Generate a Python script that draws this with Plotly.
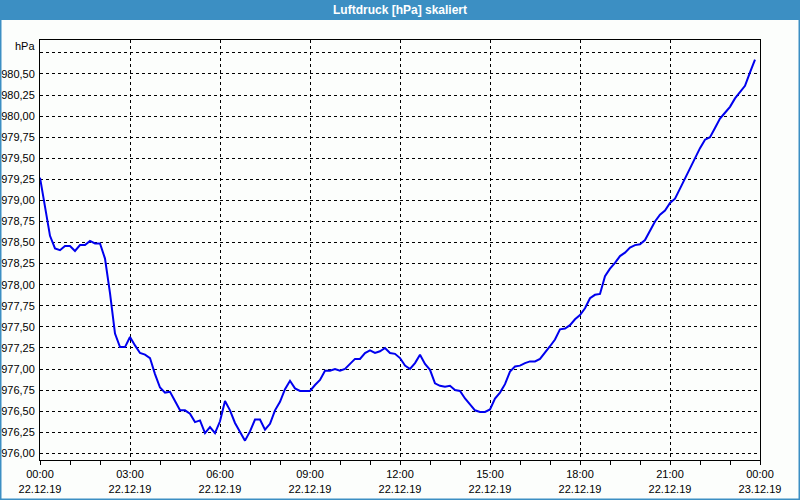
import pandas as pd
import plotly.graph_objects as go

# ---- data -------------------------------------------------------------
start_time = "2019-12-22 00:00"
interval = "10min"
pressure_hpa = [
    979.27, 978.90, 978.58, 978.43, 978.41, 978.46, 978.46, 978.40, 978.47, 978.47,
    978.52, 978.49, 978.49, 978.31, 977.90, 977.42, 977.26, 977.26, 977.38, 977.28,
    977.19, 977.17, 977.13, 976.94, 976.78, 976.72, 976.73, 976.62, 976.51, 976.51,
    976.47, 976.37, 976.39, 976.24, 976.31, 976.24, 976.38, 976.62, 976.51, 976.36,
    976.26, 976.15, 976.26, 976.40, 976.40, 976.28, 976.35, 976.51, 976.61, 976.76,
    976.86, 976.77, 976.74, 976.74, 976.74, 976.81, 976.87, 976.98, 976.98, 977.00,
    976.98, 977.00, 977.06, 977.12, 977.12, 977.19, 977.22, 977.19, 977.21, 977.25,
    977.19, 977.18, 977.13, 977.04, 977.00, 977.07, 977.17, 977.06, 976.99, 976.83,
    976.80, 976.79, 976.80, 976.75, 976.74, 976.65, 976.58, 976.51, 976.49, 976.49,
    976.52, 976.65, 976.72, 976.82, 976.97, 977.03, 977.04, 977.07, 977.09, 977.09,
    977.12, 977.19, 977.27, 977.35, 977.47, 977.48, 977.52, 977.59, 977.64, 977.72,
    977.84, 977.88, 977.89, 978.10, 978.19, 978.26, 978.34, 978.38, 978.44, 978.47,
    978.48, 978.53, 978.64, 978.75, 978.83, 978.88, 978.97, 979.02, 979.14, 979.26,
    979.38, 979.51, 979.62, 979.72, 979.75, 979.86, 979.97, 980.04, 980.11, 980.21,
    980.29, 980.36, 980.52, 980.67,
]
times = pd.date_range(start_time, periods=len(pressure_hpa), freq=interval)

y_tick_values = [976.00, 976.25, 976.50, 976.75, 977.00, 977.25, 977.50, 977.75,
                 978.00, 978.25, 978.50, 978.75, 979.00, 979.25, 979.50, 979.75,
                 980.00, 980.25, 980.50, 980.75]
y_tick_labels = ["976,00", "976,25", "976,50", "976,75", "977,00", "977,25", "977,50",
                 "977,75", "978,00", "978,25", "978,50", "978,75", "979,00", "979,25",
                 "979,50", "979,75", "980,00", "980,25", "980,50", ""]

x_tick_values = list(pd.date_range("2019-12-22 00:00", "2019-12-23 00:00", freq="3h"))
x_tick_labels = [f"{t:%H:%M}<br>{t:%d.%m.%y}" for t in x_tick_values]
x_minor_values = list(pd.date_range("2019-12-22 00:00", "2019-12-23 00:00", freq="1h"))

title_text = "Luftdruck [hPa] skaliert"
unit_text = "hPa"

# ---- figure -----------------------------------------------------------
W, H = 800, 500
L, R, T, B = 40, 40, 40, 40
plot_w, plot_h = W - L - R, H - T - B

def px_x(p):
    return (p - L) / plot_w

def px_y(p):
    return (H - B - p) / plot_h

blue_bar = "#3c8fc3"
bg = "#fcfefc"
font = "Liberation Sans, Arial, sans-serif"

fig = go.Figure()
fig.add_trace(go.Scatter(
    x=times, y=pressure_hpa, mode="lines",
    line=dict(color="#0000ee", width=2),
    hoverinfo="skip", showlegend=False,
))

fig.update_layout(
    width=W, height=H,
    margin=dict(l=L, r=R, t=T, b=B, autoexpand=False),
    paper_bgcolor=bg, plot_bgcolor=bg,
    font=dict(family=font, size=11, color="#000000"),
    showlegend=False,
    xaxis=dict(
        type="date", automargin=False,
        range=["2019-12-22 00:00", "2019-12-23 00:00"],
        tickmode="array", tickvals=x_tick_values, ticktext=x_tick_labels,
        ticks="outside", ticklen=4, tickcolor="#000000", tickwidth=1,
        ticklabelstandoff=0,
        showgrid=True, gridcolor="#000000", gridwidth=1, griddash="3px,3px",
        minor=dict(tickmode="array", tickvals=x_minor_values, ticks="outside",
                   ticklen=4, tickcolor="#000000", showgrid=False),
        showline=True, linecolor="#000000", linewidth=1, mirror=True,
        zeroline=False, fixedrange=True,
    ),
    yaxis=dict(
        automargin=False,
        range=[975.9205, 980.903],
        tickmode="array", tickvals=y_tick_values, ticktext=y_tick_labels,
        ticks="", ticklabelstandoff=2,
        showgrid=True, gridcolor="#000000", gridwidth=1, griddash="3px,3px",
        showline=True, linecolor="#000000", linewidth=1, mirror=True,
        zeroline=False, fixedrange=True,
    ),
    shapes=[
        dict(type="rect", xref="paper", yref="paper",
             x0=px_x(0), x1=px_x(W), y0=px_y(20), y1=px_y(0),
             fillcolor=blue_bar, line=dict(width=0), layer="above"),
        dict(type="rect", xref="paper", yref="paper",
             x0=px_x(0.5), x1=px_x(W - 0.5), y0=px_y(H - 0.5), y1=px_y(0),
             fillcolor="rgba(0,0,0,0)", line=dict(color=blue_bar, width=2),
             layer="above"),
    ],
    annotations=[
        dict(text=f"<b>{title_text}</b>", xref="paper", yref="paper",
             x=0.5, y=px_y(10), xanchor="center", yanchor="middle",
             showarrow=False, font=dict(family=font, size=12, color="#ffffff")),
        dict(text=unit_text, xref="paper", yref="paper",
             x=px_x(37), y=px_y(46), xanchor="right", yanchor="middle",
             showarrow=False, font=dict(family=font, size=11, color="#000000")),
    ],
)

fig.write_html("out.html")
